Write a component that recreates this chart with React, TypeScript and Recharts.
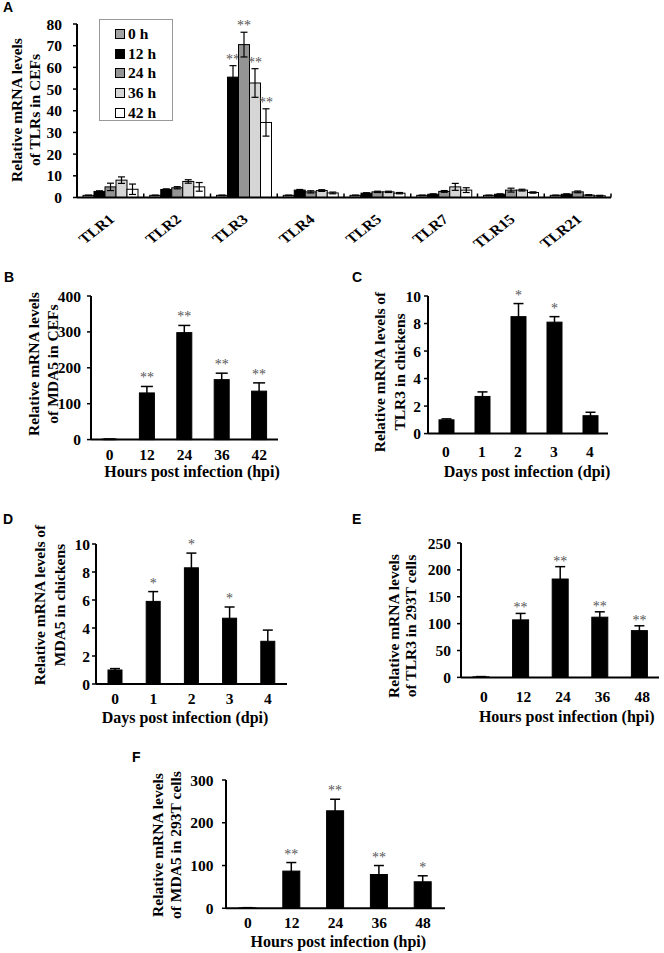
import { BarChart, Bar, XAxis, YAxis, ErrorBar, Legend } from "recharts";

const SERIF = '"Liberation Serif", "Times New Roman", serif';
const SANS = '"Liberation Sans", Arial, sans-serif';

// ---- Panel A: TLRs in CEFs ----
const tlrNames = ["TLR1", "TLR2", "TLR3", "TLR4", "TLR5", "TLR7", "TLR15", "TLR21"];
const timeLabels = ["0 h", "12 h", "24 h", "36 h", "42 h"];
const timeColors = ["#a3a3a3", "#000000", "#949494", "#d6d6d6", "#ffffff"];
const tlr0h = [1, 1, 1, 1, 1, 1, 1, 1];
const tlr12h = [2.8, 3.7, 55.5, 3.4, 2.0, 1.5, 1.5, 1.5];
const tlr24h = [4.9, 4.5, 70.5, 2.6, 2.6, 2.8, 3.4, 2.6];
const tlr36h = [8.0, 7.4, 52.8, 3.2, 2.6, 4.9, 3.4, 1.1];
const tlr42h = [3.8, 4.9, 34.6, 2.1, 2.0, 3.4, 2.3, 0.8];
const tlr0hErr = [0.1, 0.1, 0.1, 0.1, 0.1, 0.1, 0.1, 0.1];
const tlr12hErr = [0.3, 0.3, 5.3, 0.3, 0.2, 0.2, 0.2, 0.2];
const tlr24hErr = [1.7, 0.5, 5.7, 0.5, 0.3, 0.4, 0.9, 0.4];
const tlr36hErr = [1.5, 0.8, 6.6, 0.4, 0.3, 1.6, 0.4, 0.2];
const tlr42hErr = [2.4, 2.0, 6.3, 0.4, 0.3, 1.1, 0.3, 0.2];
const tlr12hStars = ["", "", "**", "", "", "", "", ""];
const tlr24hStars = ["", "", "**", "", "", "", "", ""];
const tlr36hStars = ["", "", "**", "", "", "", "", ""];
const tlr42hStars = ["", "", "**", "", "", "", "", ""];
const aTicks = [0, 10, 20, 30, 40, 50, 60, 70, 80];

// ---- Panel B: MDA5 in CEFs ----
const hpiB = ["0", "12", "24", "36", "42"];
const mda5Cef = [1, 130, 298, 167, 135];
const mda5CefErr = [0.5, 18, 20, 18, 23];
const mda5CefStars = ["", "**", "**", "**", "**"];
const bTicks = [0, 100, 200, 300, 400];

// ---- Panel C: TLR3 in chickens ----
const dpi = ["0", "1", "2", "3", "4"];
const tlr3Chicken = [1.0, 2.7, 8.5, 8.1, 1.3];
const tlr3ChickenErr = [0.07, 0.33, 0.95, 0.4, 0.25];
const tlr3ChickenStars = ["", "", "*", "*", ""];
const cdTicks = [0, 2, 4, 6, 8, 10];

// ---- Panel D: MDA5 in chickens ----
const mda5Chicken = [1.0, 5.9, 8.3, 4.7, 3.05];
const mda5ChickenErr = [0.1, 0.7, 1.05, 0.8, 0.8];
const mda5ChickenStars = ["", "*", "*", "*", ""];

// ---- Panel E: TLR3 in 293T ----
const hpiEF = ["0", "12", "24", "36", "48"];
const tlr3Cells = [1, 107, 183, 112, 87];
const tlr3CellsErr = [0.5, 12, 23, 10, 9];
const tlr3CellsStars = ["", "**", "**", "**", "**"];
const eTicks = [0, 50, 100, 150, 200, 250];

// ---- Panel F: MDA5 in 293T ----
const mda5Cells = [1, 87, 228, 79, 62];
const mda5CellsErr = [0.5, 20, 27, 21, 14];
const mda5CellsStars = ["", "**", "**", "**", "*"];
const fTicks = [0, 100, 200, 300];

const tlrRows = tlrNames.map((name, i) => ({
  name,
  h0: tlr0h[i], e0: tlr0hErr[i], s0: "",
  h12: tlr12h[i], e12: tlr12hErr[i], s12: tlr12hStars[i],
  h24: tlr24h[i], e24: tlr24hErr[i], s24: tlr24hStars[i],
  h36: tlr36h[i], e36: tlr36hErr[i], s36: tlr36hStars[i],
  h42: tlr42h[i], e42: tlr42hErr[i], s42: tlr42hStars[i],
}));

function rowsOf(names: string[], vals: number[], errs: number[], stars: string[]) {
  return names.map((name, i) => ({ name, v: vals[i], e: errs[i], s: stars[i] }));
}

const tickStyle = { fill: "#000", fontSize: 15.5, fontWeight: "bold", fontFamily: SERIF };

function starShape(valKey: string, errKey: string, starKey: string, fontSize: number, gap: number) {
  return (p: any) => {
    const { x, y, width, height, fill, payload } = p;
    const v = payload[valKey];
    const e = payload[errKey];
    const s = payload[starKey];
    const errTop = v > 0 ? y - (height * e) / v : y;
    return (
      <g>
        <rect x={x} y={y} width={width} height={Math.max(height, 0)} fill={fill} stroke="#000" strokeWidth={1} />
        {s ? (
          <text x={x + width / 2} y={errTop - gap} textAnchor="middle" fontSize={fontSize} fontFamily={SERIF} fill="#555">
            {s}
          </text>
        ) : null}
      </g>
    );
  };
}

// plot box in page coords
const A_BOX = [77, 24, 611, 197.5];
const A_BAND = (A_BOX[2] - A_BOX[0]) / tlrNames.length;

function TlrTick(props: any) {
  const { x, y, payload } = props;
  return (
    <g>
      <line x1={x + A_BAND / 2} y1={y} x2={x + A_BAND / 2} y2={y - 4} stroke="#000" strokeWidth={1.5} />
      <text
        transform={`translate(${x + 5},${y + 23}) scale(1.15,1) rotate(-42)`}
        textAnchor="end"
        fontSize={14}
        fontWeight="bold"
        fontFamily={SERIF}
        fill="#000"
      >
        {payload.value}
      </text>
    </g>
  );
}

function TimeLegend() {
  return (
    <div style={{ width: 74, height: 102, border: "1px solid #999", background: "#fff", boxSizing: "border-box", paddingTop: 4 }}>
      {timeLabels.map((t, i) => (
        <div key={t} style={{ display: "flex", alignItems: "center", height: 19.7, paddingLeft: 15 }}>
          <span style={{ width: 8, height: 8, border: "1px solid #000", background: timeColors[i], marginRight: 3 }} />
          <span style={{ fontFamily: SERIF, fontWeight: "bold", fontSize: 15.5 }}>{t}</span>
        </div>
      ))}
    </div>
  );
}

function PanelA() {
  const [x0, y0, x1, y1] = A_BOX;
  const yw = 70, top = 20, right = 10, xh = 66;
  const keys = ["0", "12", "24", "36", "42"];
  return (
    <div style={{ position: "absolute", left: x0 - yw, top: y0 - top }}>
      <BarChart
        width={x1 - x0 + yw + right}
        height={y1 - y0 + top + xh}
        data={tlrRows}
        margin={{ top, right, bottom: 0, left: 0 }}
        barSize={11}
        barGap={0}
      >
        <XAxis
          dataKey="name"
          height={xh}
          interval={0}
          axisLine={{ stroke: "#000", strokeWidth: 2 }}
          tickLine={false}
          tickSize={0}
          tickMargin={0}
          tick={<TlrTick />}
        />
        <YAxis
          width={yw}
          domain={[0, 80]}
          ticks={aTicks}
          interval={0}
          axisLine={{ stroke: "#000", strokeWidth: 2 }}
          tickLine={{ stroke: "#000", strokeWidth: 1.5 }}
          tickSize={4}
          tickMargin={11}
          tick={tickStyle}
        />
        <Legend
          layout="vertical"
          align="center"
          verticalAlign="middle"
          wrapperStyle={{ left: 99 - (x0 - yw), top: 19 - (y0 - top), width: 74 }}
          content={() => <TimeLegend />}
        />
        {keys.map((k, i) => (
          <Bar
            key={k}
            dataKey={`h${k}`}
            name={timeLabels[i]}
            fill={timeColors[i]}
            isAnimationActive={false}
            shape={starShape(`h${k}`, `e${k}`, `s${k}`, 14, 2)}
          >
            <ErrorBar dataKey={`e${k}`} width={3.5} stroke="#000" strokeWidth={1.2} direction="y" />
          </Bar>
        ))}
      </BarChart>
    </div>
  );
}

type PanelProps = {
  rows: { name: string; v: number; e: number; s: string }[];
  box: number[];
  max: number;
  ticks: number[];
  barSize: number;
  cap: number;
  tickGap: number;
  yGap: number;
  starGap: number;
  labelDx?: number;
};

function SimplePanel({ rows, box, max, ticks, barSize, cap, tickGap, yGap, starGap, labelDx = 0 }: PanelProps) {
  const [x0, y0, x1, y1] = box;
  const yw = 80, top = 20, right = 10, xh = 40;
  return (
    <div style={{ position: "absolute", left: x0 - yw, top: y0 - top }}>
      <BarChart
        width={x1 - x0 + yw + right}
        height={y1 - y0 + top + xh}
        data={rows}
        margin={{ top, right, bottom: 0, left: 0 }}
        barSize={barSize}
      >
        <XAxis
          dataKey="name"
          height={xh}
          interval={0}
          axisLine={{ stroke: "#000", strokeWidth: 2 }}
          tickLine={false}
          tickSize={0}
          tickMargin={tickGap}
          tick={{ ...tickStyle, dx: labelDx }}
        />
        <YAxis
          width={yw}
          domain={[0, max]}
          ticks={ticks}
          interval={0}
          axisLine={{ stroke: "#000", strokeWidth: 2 }}
          tickLine={{ stroke: "#000", strokeWidth: 1.5 }}
          tickSize={4}
          tickMargin={yGap}
          tick={tickStyle}
        />
        <Bar dataKey="v" fill="#000" isAnimationActive={false} shape={starShape("v", "e", "s", 14, starGap)}>
          <ErrorBar dataKey="e" width={cap} stroke="#000" strokeWidth={1.5} direction="y" />
        </Bar>
      </BarChart>
    </div>
  );
}

function YTitle({ cx, cy, lines, lh = 18 }: { cx: number; cy: number; lines: string[]; lh?: number }) {
  return (
    <div
      style={{
        position: "absolute",
        left: cx,
        top: cy,
        transform: "translate(-50%, -50%) rotate(-90deg)",
        whiteSpace: "nowrap",
        textAlign: "center",
        fontFamily: SERIF,
        fontWeight: "bold",
        fontSize: 15.5,
        lineHeight: `${lh}px`,
      }}
    >
      {lines.map((l) => (
        <div key={l}>{l}</div>
      ))}
    </div>
  );
}

function XTitle({ cx, cy, text }: { cx: number; cy: number; text: string }) {
  return (
    <div
      style={{
        position: "absolute",
        left: cx,
        top: cy,
        transform: "translate(-50%, -50%)",
        whiteSpace: "nowrap",
        fontFamily: SERIF,
        fontWeight: "bold",
        fontSize: 16,
        lineHeight: "18px",
      }}
    >
      {text}
    </div>
  );
}

function Letter({ x, y, text }: { x: number; y: number; text: string }) {
  return (
    <div style={{ position: "absolute", left: x, top: y - 3, fontFamily: SANS, fontWeight: "bold", fontSize: 14, lineHeight: "14px" }}>
      {text}
    </div>
  );
}

export default function App() {
  return (
    <div style={{ position: "absolute", left: 0, top: 0, width: 664, height: 953, background: "#fff", overflow: "hidden" }}>
      <PanelA />
      <SimplePanel rows={rowsOf(hpiB, mda5Cef, mda5CefErr, mda5CefStars)} box={[91, 295.7, 278, 439.3]} max={400} ticks={bTicks} barSize={15} cap={6} tickGap={9} yGap={6} starGap={4} />
      <SimplePanel rows={rowsOf(dpi, tlr3Chicken, tlr3ChickenErr, tlr3ChickenStars)} box={[428, 295.7, 608, 433.3]} max={10} ticks={cdTicks} barSize={15} cap={5} tickGap={12} yGap={3} starGap={4} />
      <SimplePanel rows={rowsOf(dpi, mda5Chicken, mda5ChickenErr, mda5ChickenStars)} box={[96, 544, 287, 684]} max={10} ticks={cdTicks} barSize={14} cap={5} tickGap={9} yGap={2} starGap={4} />
      <SimplePanel rows={rowsOf(hpiEF, tlr3Cells, tlr3CellsErr, tlr3CellsStars)} box={[461, 543.3, 659, 677.7]} max={250} ticks={eTicks} barSize={16} cap={5} tickGap={14} yGap={6} starGap={1} labelDx={3} />
      <SimplePanel rows={rowsOf(hpiEF, mda5Cells, mda5CellsErr, mda5CellsStars)} box={[226, 780, 445, 908.3]} max={300} ticks={fTicks} barSize={17} cap={5} tickGap={9} yGap={8.5} starGap={4} />

      <Letter x={3} y={3} text="A" />
      <Letter x={4} y={273} text="B" />
      <Letter x={352} y={273} text="C" />
      <Letter x={3} y={515} text="D" />
      <Letter x={352} y={515} text="E" />
      <Letter x={132} y={753} text="F" />

      <YTitle cx={26} cy={110} lines={["Relative mRNA levels", "of TLRs in CEFs"]} />
      <YTitle cx={42.5} cy={364} lines={["Relative mRNA levels", "of MDA5 in CEFs"]} lh={19} />
      <YTitle cx={390} cy={372} lines={["Relative mRNA levels of", "TLR3 in chickens"]} lh={20} />
      <YTitle cx={50} cy={605} lines={["Relative mRNA levels of", "MDA5 in chickens"]} lh={20} />
      <YTitle cx={402} cy={626} lines={["Relative mRNA levels", "of TLR3 in 293T cells"]} lh={17} />
      <YTitle cx={167} cy={845} lines={["Relative mRNA levels", "of MDA5 in 293T cells"]} lh={18} />

      <XTitle cx={192} cy={471.7} text="Hours post infection (hpi)" />
      <XTitle cx={527} cy={471.7} text="Days post infection (dpi)" />
      <XTitle cx={185} cy={718} text="Days post infection (dpi)" />
      <XTitle cx={566.7} cy={716.7} text="Hours post infection (hpi)" />
      <XTitle cx={338.3} cy={941.7} text="Hours post infection (hpi)" />
    </div>
  );
}
